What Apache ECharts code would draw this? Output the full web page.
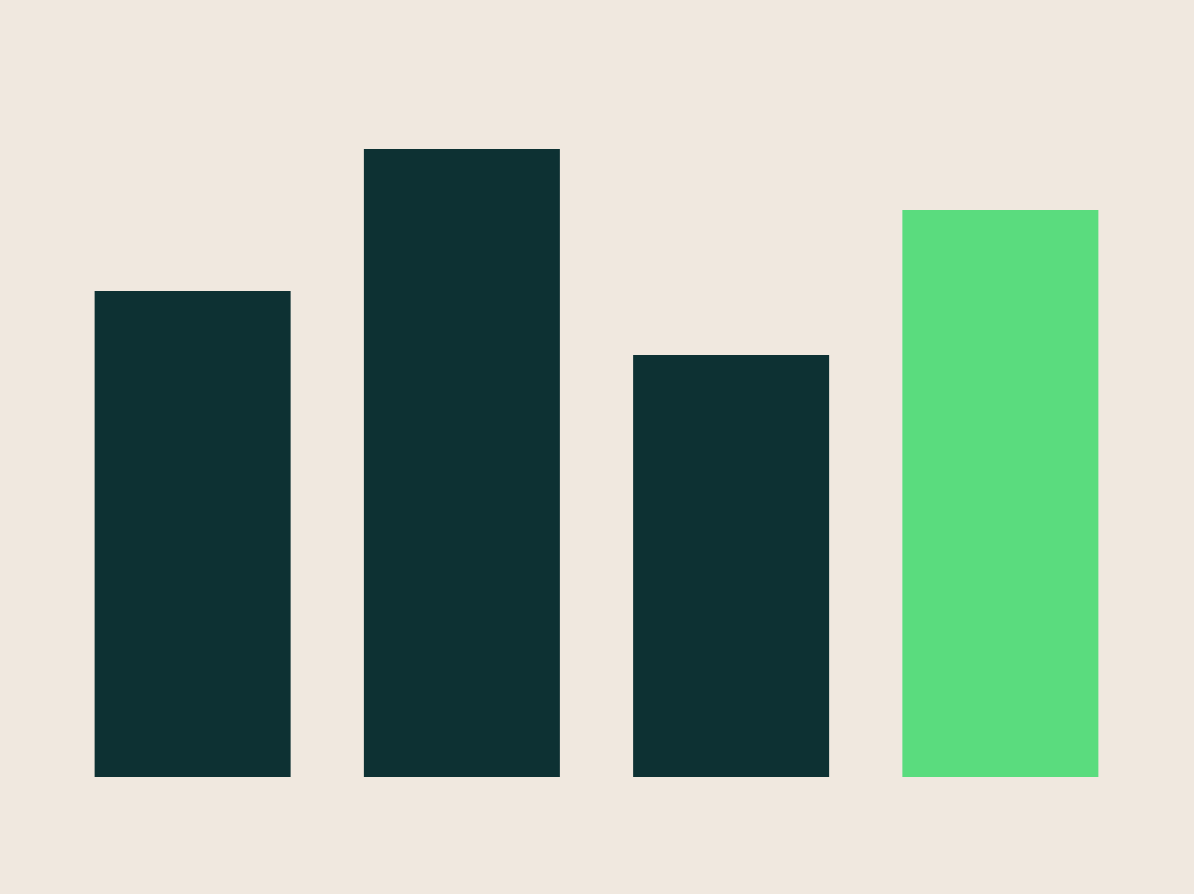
<!DOCTYPE html>
<html>
<head>
<meta charset="utf-8">
<script src="https://cdn.jsdelivr.net/npm/echarts@6/dist/echarts.min.js"></script>
<style>
  html, body { margin: 0; padding: 0; background: #F0E8DF; }
  #chart { width: 1194px; height: 894px; }
</style>
</head>
<body>
<div id="chart"></div>
<script>
// bar data (tallest bar = 100)
var categories = ['A', 'B', 'C', 'D'];
var values = [77.4, 100, 67.2, 90.3];
var barColors = ['#0D3133', '#0D3133', '#0D3133', '#5ADC7E'];

var chart = echarts.init(document.getElementById('chart'));

chart.setOption({
    backgroundColor: '#F0E8DF',
    animation: false,
    grid: { left: 58, right: 59, top: 149, bottom: 117 },
    xAxis: {
        type: 'category',
        data: categories,
        show: false
    },
    yAxis: {
        type: 'value',
        min: 0,
        max: 100,
        show: false
    },
    series: [{
        type: 'bar',
        barWidth: 196,
        data: values.map(function (v, i) {
            return { value: v, itemStyle: { color: barColors[i] } };
        })
    }]
});
</script>
</body>
</html>
